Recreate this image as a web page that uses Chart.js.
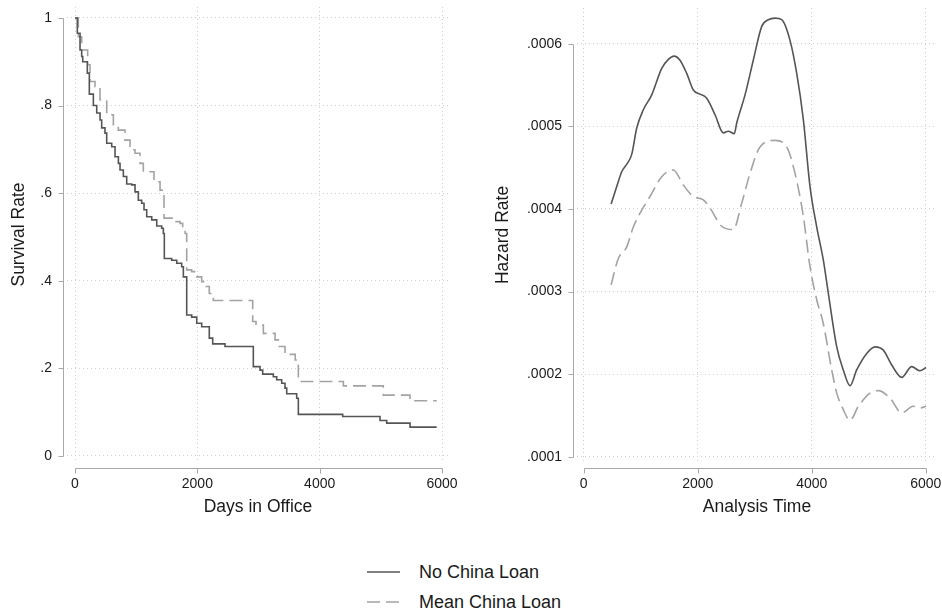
<!DOCTYPE html>
<html>
<head>
<meta charset="utf-8">
<title>Survival and Hazard</title>
<script src="https://cdn.jsdelivr.net/npm/chart.js@4.4.0/dist/chart.umd.min.js"></script>
<style>
  html, body { margin: 0; padding: 0; background: #fff; }
  body { width: 942px; height: 611px; position: relative; overflow: hidden;
         font-family: "Liberation Sans", Arial, sans-serif; color: #1a1a1a; }
  canvas { position: absolute; top: 0; }
  #survival-chart { left: 0; }
  #hazard-chart { left: 470px; }
  .legend-row { position: absolute; left: 367px; height: 20px; }
  .legend-row svg { position: absolute; left: 0; top: 5px; }
  .legend-row span { position: absolute; left: 52px; top: 0; font-size: 18px; line-height: 20px; white-space: nowrap; }
</style>
</head>
<body>
<canvas id="survival-chart" width="470" height="530"></canvas>
<canvas id="hazard-chart" width="472" height="530"></canvas>

<div class="legend-row" style="top:562px">
  <svg width="34" height="10"><line x1="0" y1="5" x2="33" y2="5" stroke="#555" stroke-width="1.6"/></svg>
  <span id="legend-no">No China Loan</span>
</div>
<div class="legend-row" style="top:592px">
  <svg width="34" height="10"><line x1="0" y1="5" x2="33" y2="5" stroke="#a3a3a3" stroke-width="1.6" stroke-dasharray="13 6"/></svg>
  <span id="legend-mean">Mean China Loan</span>
</div>

<script>
// Series labels
const seriesNames = ['No China Loan', 'Mean China Loan'];

// Kaplan-Meier survival: drop times (days) and survival after each drop
const kmDaysNo = [0, 38, 82, 109, 126, 201, 234, 300, 355, 409, 436, 490, 518, 600, 654, 709, 736, 790, 845, 927,
  981, 1035, 1090, 1128, 1172, 1254, 1336, 1417, 1444, 1460, 1580, 1663, 1744, 1771, 1826, 1907, 1990, 2071,
  2195, 2251, 2452, 2915, 3025, 3068, 3242, 3297, 3379, 3433, 3461, 3624, 3651, 4376, 4986, 5096, 5477, 5913];
const kmSurvNo = [1, 0.965, 0.927, 0.912, 0.9, 0.874, 0.826, 0.8, 0.783, 0.767, 0.749, 0.737, 0.714, 0.706, 0.683,
  0.668, 0.653, 0.638, 0.621, 0.619, 0.603, 0.584, 0.577, 0.562, 0.546, 0.539, 0.525, 0.52, 0.508, 0.451, 0.447,
  0.44, 0.432, 0.409, 0.322, 0.317, 0.303, 0.295, 0.269, 0.256, 0.25, 0.204, 0.196, 0.187, 0.181, 0.174, 0.166,
  0.155, 0.142, 0.132, 0.095, 0.09, 0.081, 0.075, 0.066, 0.066];

const kmDaysMean = [0, 54, 109, 207, 245, 327, 409, 518, 627, 708, 817, 899, 981, 1063, 1117, 1291, 1390, 1455,
  1607, 1717, 1760, 1800, 1826, 1907, 1990, 2071, 2130, 2195, 2261, 2905, 2959, 3079, 3270, 3324, 3433, 3600,
  3651, 4387, 5040, 5477, 5913];
const kmSurvMean = [1, 0.957, 0.927, 0.893, 0.855, 0.843, 0.813, 0.779, 0.752, 0.744, 0.721, 0.699, 0.691, 0.668,
  0.649, 0.626, 0.607, 0.543, 0.535, 0.531, 0.516, 0.508, 0.425, 0.421, 0.409, 0.398, 0.387, 0.371, 0.355, 0.307,
  0.299, 0.28, 0.265, 0.25, 0.232, 0.219, 0.17, 0.16, 0.139, 0.126, 0.126];

// Smoothed hazard: analysis time and hazard rate
const hazTimeNo = [480, 579, 667, 765, 842, 930, 1046, 1193, 1368, 1485, 1584, 1689, 1807, 1923, 2040, 2158,
  2304, 2449, 2537, 2642, 2684, 2830, 2975, 3123, 3239, 3356, 3474, 3619, 3737, 3853, 3970, 4088, 4204, 4291,
  4439, 4554, 4672, 4789, 4965, 5111, 5256, 5404, 5579, 5754, 5900, 6005];
const hazRateNo = [0.000406, 0.000427, 0.000445, 0.000455, 0.000466, 0.000498, 0.00052, 0.000538, 0.00057,
  0.000581, 0.000585, 0.00058, 0.000564, 0.000544, 0.000539, 0.000534, 0.000514, 0.000492, 0.000494, 0.000491,
  0.000504, 0.000538, 0.00058, 0.000621, 0.000629, 0.000631, 0.000629, 0.000604, 0.000564, 0.000508, 0.000427,
  0.000378, 0.000338, 0.000298, 0.000233, 0.000205, 0.000186, 0.000205, 0.000225, 0.000233, 0.000229, 0.000211,
  0.000196, 0.000209, 0.000204, 0.000208];

const hazTimeMean = [480, 607, 754, 870, 988, 1163, 1368, 1572, 1747, 1923, 2098, 2216, 2421, 2625, 2772, 2918,
  3093, 3356, 3561, 3707, 3853, 3970, 4088, 4204, 4351, 4439, 4554, 4672, 4818, 5023, 5168, 5374, 5579, 5782,
  5900, 6005];
const hazRateMean = [0.000308, 0.00034, 0.000354, 0.000378, 0.000395, 0.000415, 0.000439, 0.000447, 0.000429,
  0.000415, 0.000411, 0.000401, 0.000379, 0.000375, 0.000407, 0.000443, 0.000475, 0.000483, 0.000475, 0.000443,
  0.000391, 0.00033, 0.00029, 0.000261, 0.000205, 0.000177, 0.000157, 0.000144, 0.000161, 0.000177, 0.00018,
  0.000171, 0.000153, 0.000161, 0.000159, 0.000161];

// Tick values
const timeTicks = [0, 2000, 4000, 6000];
const survivalTicks = [0, 0.2, 0.4, 0.6, 0.8, 1];
const hazardTicks = [0.0001, 0.0002, 0.0003, 0.0004, 0.0005, 0.0006];

const SOLID = '#555555';
const DASHED = '#a3a3a3';
const GRID = '#cfcfcf';
const AXIS = '#a8a8a8';
const FONT = '"Liberation Sans", Arial, sans-serif';

// Stata-style ".2" labels
function stataLabel(v) {
  return String(v).replace(/^0\./, '.');
}

function toPoints(xs, ys) {
  return xs.map((x, i) => ({ x: x, y: ys[i] }));
}

// Axis lines with outward ticks, set apart from the plot region
const stataAxes = {
  id: 'stataAxes',
  afterDraw(chart, args, opts) {
    const ctx = chart.ctx;
    const area = chart.chartArea;
    const xs = chart.scales.x;
    const ys = chart.scales.y;
    const yPix = ys.ticks.map(t => Math.round(ys.getPixelForValue(t.value)) + 0.5);
    const xPix = xs.ticks.map(t => Math.round(xs.getPixelForValue(t.value)) + 0.5);
    const ax = Math.round(area.left - opts.gapY) + 0.5;
    const ay = Math.round(area.bottom + opts.gapX) + 0.5;

    ctx.save();
    ctx.strokeStyle = AXIS;
    ctx.lineWidth = 1;
    ctx.beginPath();
    ctx.moveTo(ax, Math.min(...yPix));
    ctx.lineTo(ax, Math.max(...yPix));
    yPix.forEach(p => { ctx.moveTo(ax - 5, p); ctx.lineTo(ax, p); });
    ctx.moveTo(Math.min(...xPix), ay);
    ctx.lineTo(Math.max(...xPix), ay);
    xPix.forEach(p => { ctx.moveTo(p, ay); ctx.lineTo(p, ay + 5); });
    ctx.stroke();
    ctx.restore();
  }
};

// Fixed axis box size, and no extra room asked for edge labels
function fixBox(axis, size) {
  if (axis.isHorizontal()) axis.height = size;
  else axis.width = size;
  axis.paddingTop = 0;
  axis.paddingBottom = 0;
  axis.paddingLeft = 0;
  axis.paddingRight = 0;
}

function buildChart(canvasId, cfg) {
  return new Chart(document.getElementById(canvasId), {
    type: 'line',
    data: { datasets: cfg.datasets },
    options: {
      responsive: false,
      animation: false,
      events: [],
      layout: { autoPadding: false, padding: { top: cfg.top, right: cfg.right, bottom: 0, left: 0 } },
      plugins: {
        legend: { display: false },
        tooltip: { enabled: false },
        stataAxes: { gapX: 6, gapY: 4 }
      },
      scales: {
        x: {
          type: 'linear',
          min: cfg.xMin,
          max: cfg.xMax,
          afterBuildTicks: axis => { axis.ticks = timeTicks.map(v => ({ value: v })); },
          afterFit: axis => fixBox(axis, 68),
          grid: { color: GRID, lineWidth: 1, drawTicks: false },
          border: { display: false, dash: [1, 3] },
          ticks: { padding: 14, color: '#1a1a1a', font: { family: FONT, size: 14 }, maxRotation: 0,
                   callback: v => String(v) },
          title: { display: true, text: cfg.xTitle, color: '#1a1a1a',
                   font: { family: FONT, size: 17.5 }, padding: { top: 0, bottom: 12 } }
        },
        y: {
          min: cfg.yMin,
          max: cfg.yMax,
          afterBuildTicks: axis => { axis.ticks = cfg.yTicks.map(v => ({ value: v })); },
          afterFit: axis => fixBox(axis, cfg.yWidth),
          grid: { color: GRID, lineWidth: 1, drawTicks: false },
          border: { display: false, dash: [1, 3] },
          ticks: { padding: 15, color: '#1a1a1a', font: { family: FONT, size: 14 },
                   callback: v => stataLabel(v) },
          title: { display: true, text: cfg.yTitle, color: '#1a1a1a',
                   font: { family: FONT, size: 17.5 }, padding: { top: cfg.yTitlePad, bottom: 0 } }
        }
      }
    },
    plugins: [stataAxes]
  });
}

// Left panel: survival estimates
buildChart('survival-chart', {
  top: 7, right: 21, yWidth: 67, yTitlePad: 9,
  xMin: -131, xMax: 6114, yMin: -0.0137, yMax: 1.025,
  yTicks: survivalTicks,
  xTitle: 'Days in Office', yTitle: 'Survival Rate',
  datasets: [
    { label: seriesNames[0], data: toPoints(kmDaysNo, kmSurvNo), stepped: 'before',
      borderColor: SOLID, borderWidth: 1.6, pointRadius: 0, fill: false },
    { label: seriesNames[1], data: toPoints(kmDaysMean, kmSurvMean), stepped: 'before',
      borderColor: DASHED, borderWidth: 1.6, borderDash: [13, 6], pointRadius: 0, fill: false }
  ]
});

// Right panel: smoothed hazard estimates
buildChart('hazard-chart', {
  top: 8, right: 5, yWidth: 107, yTitlePad: 23,
  xMin: -118, xMax: 6198, yMin: 0.0000936, yMax: 0.0006432,
  yTicks: hazardTicks,
  xTitle: 'Analysis Time', yTitle: 'Hazard Rate',
  datasets: [
    { label: seriesNames[0], data: toPoints(hazTimeNo, hazRateNo), cubicInterpolationMode: 'monotone',
      borderColor: SOLID, borderWidth: 1.6, pointRadius: 0, fill: false },
    { label: seriesNames[1], data: toPoints(hazTimeMean, hazRateMean), cubicInterpolationMode: 'monotone',
      borderColor: DASHED, borderWidth: 1.6, borderDash: [13, 6], pointRadius: 0, fill: false }
  ]
});

document.getElementById('legend-no').textContent = seriesNames[0];
document.getElementById('legend-mean').textContent = seriesNames[1];
</script>
</body>
</html>
